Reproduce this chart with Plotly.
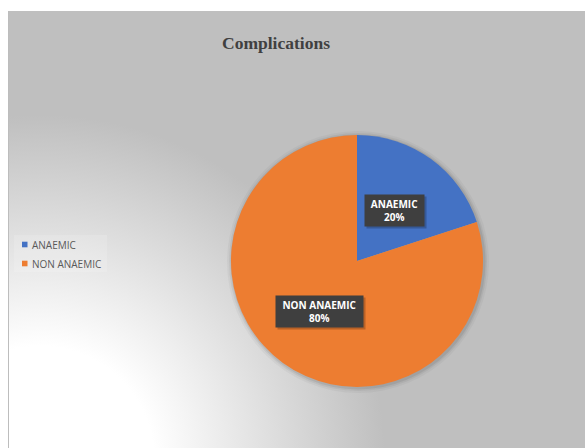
import base64
import math
import plotly.graph_objects as go

# ---- data ----
categories = ["ANAEMIC", "NON ANAEMIC"]
percentages = [20, 80]
colors = ["#4472C4", "#ED7D31"]
chart_title = "Complications"

# ---- canvas helpers (pixel -> paper fraction) ----
W, H = 585, 448


def fx(x):
    return x / W


def fy(y):
    return 1 - y / H


# chart area (white strip on top / left like an embedded office chart)
AREA_L, AREA_T, AREA_R, AREA_B = 8, 11, 585, 448
aw, ah = AREA_R - AREA_L, AREA_B - AREA_T

# radial gradient background, white in the lower-left corner fading to grey
svg = f"""<svg xmlns="http://www.w3.org/2000/svg" width="{aw}" height="{ah}" viewBox="0 0 {aw} {ah}" preserveAspectRatio="none">
<defs><radialGradient id="g" gradientUnits="userSpaceOnUse" cx="32" cy="449" r="345">
<stop offset="0" stop-color="#ffffff"/><stop offset="0.33" stop-color="#ffffff"/>
<stop offset="1" stop-color="#bfbfbf"/></radialGradient></defs>
<rect width="{aw}" height="{ah}" fill="url(#g)"/></svg>"""
bg_src = "data:image/svg+xml;base64," + base64.b64encode(svg.encode()).decode()

# pie geometry (pixels)
CX, CY, R = 357, 261, 126

fig = go.Figure()
fig.add_trace(go.Pie(
    labels=categories,
    values=percentages,
    marker=dict(colors=colors, line=dict(width=0)),
    sort=False,
    direction="clockwise",
    rotation=0,
    textinfo="none",
    hoverinfo="label+percent",
    showlegend=False,
    domain=dict(x=[fx(CX - R), fx(CX + R)], y=[fy(CY + R), fy(CY - R)]),
))

annotations = []
shapes = []

# soft glow around the pie
for grow, alpha in [(5, 0.035), (3, 0.05), (1.5, 0.07)]:
    shapes.append(dict(
        type="circle", xref="paper", yref="paper",
        x0=fx(CX - R - grow + 1), x1=fx(CX + R + grow + 1),
        y0=fy(CY + R + grow + 1), y1=fy(CY - R - grow + 1),
        fillcolor=f"rgba(0,0,0,{alpha})", line=dict(width=0), layer="below",
    ))

# data labels: dark boxes at half radius along each slice's mid-angle
total = sum(percentages)
cum = 0
for cat, val in zip(categories, percentages):
    mid = 2 * math.pi * (cum + val / 2) / total
    cum += val
    lx = CX + 0.5 * R * math.sin(mid)
    ly = CY - 0.5 * R * math.cos(mid)
    pct = round(100 * val / total)
    bw = 57 if len(cat) < 10 else 85
    # soft drop shadow
    annotations.append(dict(
        x=fx(lx + 2), y=fy(ly + 2), xref="paper", yref="paper",
        xanchor="center", yanchor="middle",
        text=" ", showarrow=False, width=bw, height=29, borderpad=1,
        bgcolor="rgba(0,0,0,0.22)",
    ))
    annotations.append(dict(
        x=fx(lx), y=fy(ly), xref="paper", yref="paper",
        xanchor="center", yanchor="middle",
        text=f"<b>{cat}</b><br><b>{pct}%</b>", showarrow=False,
        width=bw, height=29, borderpad=1, bgcolor="#3f3f3f",
        font=dict(family="Open Sans", size=10, color="#ffffff"),
        align="center",
    ))

# legend drawn as small squares with labels
LEG_X, LEG_Y0, LEG_DY = 22, 244.5, 19
shapes.append(dict(
    type="rect", xref="paper", yref="paper",
    x0=fx(14), x1=fx(107), y0=fy(272), y1=fy(235),
    fillcolor="rgba(255,255,255,0.15)", line=dict(width=0), layer="below",
))
for i, (cat, col) in enumerate(zip(categories, colors)):
    yy = LEG_Y0 + i * LEG_DY
    shapes.append(dict(
        type="rect", xref="paper", yref="paper",
        x0=fx(LEG_X), x1=fx(LEG_X + 5.5), y0=fy(yy + 2.8), y1=fy(yy - 2.8),
        fillcolor=col, line=dict(width=0),
    ))
    annotations.append(dict(
        x=fx(LEG_X + 8), y=fy(yy), xref="paper", yref="paper",
        text=cat, showarrow=False, xanchor="left", yanchor="middle",
        font=dict(family="Open Sans", size=10, color="#595959"),
    ))

# left border of the chart area
shapes.append(dict(
    type="line", xref="paper", yref="paper",
    x0=fx(AREA_L + 0.5), x1=fx(AREA_L + 0.5), y0=fy(AREA_T), y1=fy(AREA_B),
    line=dict(color="#bdbdbd", width=1),
))

fig.update_layout(
    width=W, height=H,
    margin=dict(l=0, r=0, t=0, b=0),
    paper_bgcolor="#ffffff",
    plot_bgcolor="rgba(0,0,0,0)",
    showlegend=False,
    title=dict(
        text=f"<b>{chart_title}</b>", x=fx(276), xanchor="center",
        y=fy(43), yanchor="middle",
        font=dict(family="Liberation Serif", size=17.5, color="#404040"),
    ),
    images=[dict(
        source=bg_src, xref="paper", yref="paper",
        x=fx(AREA_L), y=fy(AREA_T), sizex=aw / W, sizey=ah / H,
        xanchor="left", yanchor="top", sizing="stretch", layer="below",
    )],
    annotations=annotations,
    shapes=shapes,
)

fig.write_html("out.html")
